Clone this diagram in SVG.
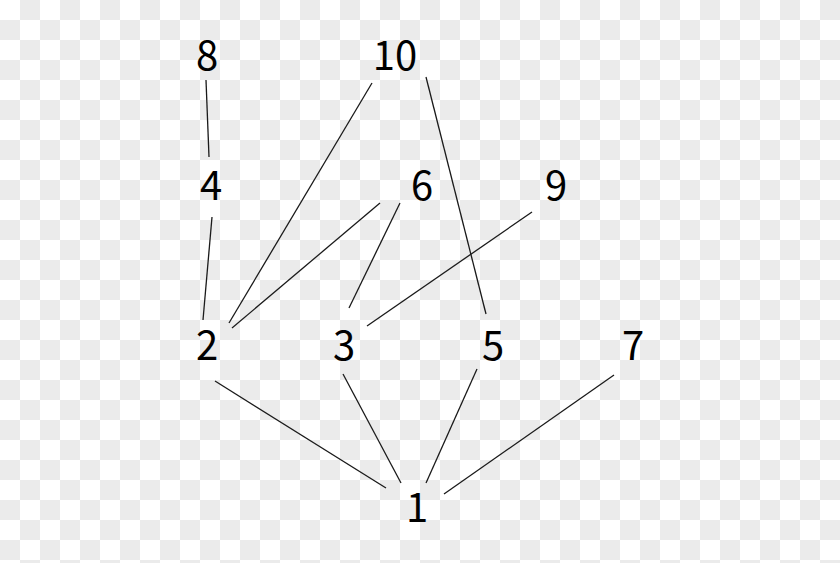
<svg xmlns="http://www.w3.org/2000/svg" width="840" height="563" viewBox="0 0 840 563">
  <defs>
    <pattern id="checker" x="0" y="0" width="40" height="40" patternUnits="userSpaceOnUse">
      <rect x="0" y="0" width="40" height="40" fill="#ffffff"/>
      <rect x="20" y="0" width="20" height="20" fill="#ebebeb"/>
      <rect x="0" y="20" width="20" height="20" fill="#ebebeb"/>
    </pattern>
  </defs>
  <style>
    .lbl { font-family: "Noto Sans CJK JP", "Noto Sans", "DejaVu Sans", sans-serif; font-size: 40px; fill: #000; text-anchor: middle; }
    .edge { stroke: #1a1a1a; stroke-width: 1.3; fill: none; }
  </style>
  <rect x="0" y="0" width="840" height="563" fill="url(#checker)"/>
  <g id="connectors">
    <line class="edge" x1="206" y1="80" x2="209" y2="157"/>
    <line class="edge" x1="372" y1="83" x2="229" y2="323"/>
    <line class="edge" x1="426" y1="77" x2="486" y2="314"/>
    <line class="edge" x1="212" y1="217" x2="203" y2="320"/>
    <line class="edge" x1="380" y1="203" x2="232" y2="328"/>
    <line class="edge" x1="400" y1="203" x2="349" y2="308"/>
    <line class="edge" x1="532" y1="212" x2="367" y2="326"/>
    <line class="edge" x1="215" y1="381" x2="386" y2="488"/>
    <line class="edge" x1="343" y1="374" x2="401" y2="483"/>
    <line class="edge" x1="477" y1="369" x2="426" y2="483"/>
    <line class="edge" x1="614" y1="375" x2="444" y2="494"/>
  </g>
  <g id="n8"><text class="lbl" x="207" y="70">8</text></g>
  <g id="n10"><text class="lbl" x="395" y="70">10</text></g>
  <g id="n4"><text class="lbl" x="211" y="200">4</text></g>
  <g id="n6"><text class="lbl" x="422" y="200">6</text></g>
  <g id="n9"><text class="lbl" x="556" y="200">9</text></g>
  <g id="n2"><text class="lbl" x="207" y="360">2</text></g>
  <g id="n3"><text class="lbl" x="344" y="360">3</text></g>
  <g id="n5"><text class="lbl" x="493" y="360">5</text></g>
  <g id="n7"><text class="lbl" x="633" y="360">7</text></g>
  <g id="n1"><text class="lbl" x="417" y="522">1</text></g>
</svg>
